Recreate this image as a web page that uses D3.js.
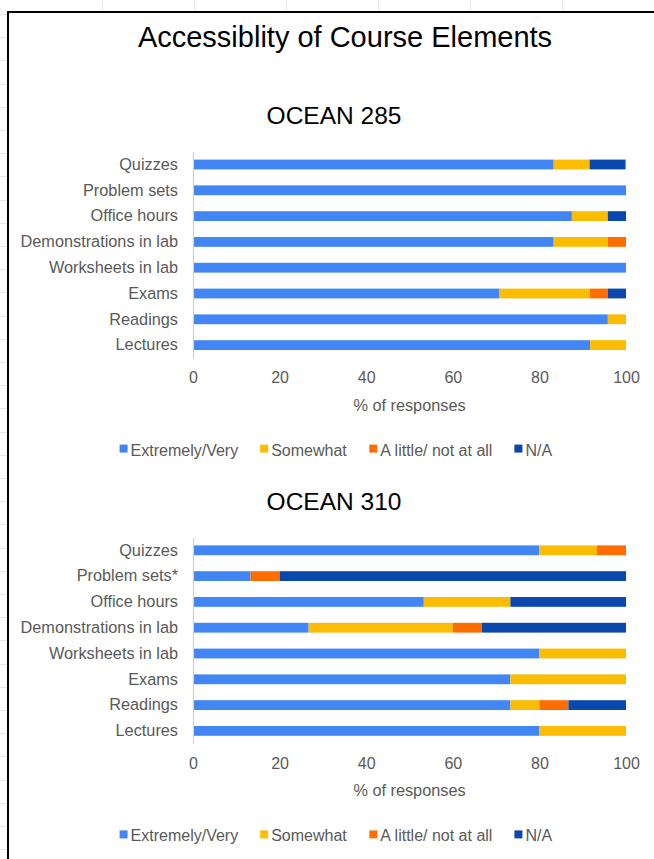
<!DOCTYPE html>
<html>
<head>
<meta charset="utf-8">
<script src="https://cdn.jsdelivr.net/npm/d3@7"></script>
<style>
  html, body { margin: 0; padding: 0; background: #fff; }
  svg { display: block; font-family: "Liberation Sans", Arial, Helvetica, sans-serif; }
</style>
</head>
<body>
<svg id="chart" width="654" height="859"></svg>
<script>
// Course elements (top to bottom)
const categories285 = ["Quizzes", "Problem sets", "Office hours", "Demonstrations in lab",
  "Worksheets in lab", "Exams", "Readings", "Lectures"];
const categories310 = ["Quizzes", "Problem sets*", "Office hours", "Demonstrations in lab",
  "Worksheets in lab", "Exams", "Readings", "Lectures"];

// Response levels
const seriesNames = ["Extremely/Very", "Somewhat", "A little/ not at all", "N/A"];

// OCEAN 285, % of responses
const extremely285 = [83.3, 100, 87.5, 83.3, 100, 70.8, 95.8, 91.7];
const somewhat285  = [8.3, 0, 8.3, 12.5, 0, 20.8, 4.2, 8.3];
const little285    = [0, 0, 0, 4.2, 0, 4.2, 0, 0];
const na285        = [8.3, 0, 4.2, 0, 0, 4.2, 0, 0];

// OCEAN 310, % of responses
const extremely310 = [80, 13.3, 53.3, 26.7, 80, 73.3, 73.3, 80];
const somewhat310  = [13.3, 0, 20, 33.3, 20, 26.7, 6.7, 20];
const little310    = [6.7, 6.7, 0, 6.7, 0, 0, 6.7, 0];
const na310        = [0, 80, 26.7, 33.3, 0, 0, 13.3, 0];

const xTicks = [0, 20, 40, 60, 80, 100];

const colors = ["#4285f4", "#fbbc04", "#ff6d01", "#0b48ad"];
const textGray = "#595959";

const svg = d3.select("#chart");

// faint worksheet cell lines outside the frame
const sheet = svg.append("g").attr("stroke", "#e6e6e6").attr("stroke-width", 1);
d3.range(102, 654, 92).forEach(x => {
  sheet.append("line").attr("x1", x + 0.5).attr("x2", x + 0.5).attr("y1", 0).attr("y2", 11);
});
d3.range(14, 859, 23.2).forEach(y => {
  sheet.append("line").attr("x1", 0).attr("x2", 7).attr("y1", Math.round(y) + 0.5).attr("y2", Math.round(y) + 0.5);
});

// frame around the figure
svg.append("path")
  .attr("d", "M8,859 V12 H654")
  .attr("fill", "none")
  .attr("stroke", "#000")
  .attr("stroke-width", 2);

svg.append("text")
  .attr("x", 345).attr("y", 47)
  .attr("text-anchor", "middle")
  .attr("font-size", 29)
  .attr("fill", "#000")
  .text("Accessiblity of Course Elements");

const x = d3.scaleLinear().domain([0, 100]).range([193, 626]);

function drawPanel(top, subtitle, categories, values) {
  const g = svg.append("g").attr("transform", `translate(0,${top})`);

  g.append("text")
    .attr("x", 334).attr("y", -27.5)
    .attr("text-anchor", "middle")
    .attr("font-size", 24.5)
    .attr("fill", "#000")
    .text(subtitle);

  const y = d3.scaleBand()
    .domain(categories)
    .range([0, 206.4])
    .paddingInner(0.62)
    .paddingOuter(0.31);

  const rows = categories.map((c, i) => {
    const r = { category: c };
    seriesNames.forEach((s, k) => { r[s] = values[k][i]; });
    return r;
  });
  const stacked = d3.stack().keys(seriesNames)(rows);

  g.selectAll("g.series")
    .data(stacked)
    .join("g")
    .attr("class", "series")
    .attr("fill", (d, k) => colors[k])
    .selectAll("rect")
    .data(d => d.filter(p => p[1] - p[0] > 0))
    .join("rect")
    .attr("x", p => x(p[0]))
    .attr("width", p => x(p[1]) - x(p[0]))
    .attr("y", p => y(p.data.category))
    .attr("height", y.bandwidth());

  // category axis
  const yAxis = g.append("g")
    .attr("transform", `translate(${x(0)},0)`)
    .call(d3.axisLeft(y).tickSize(0).tickPadding(15));
  yAxis.select(".domain").attr("stroke", "#d0d0d0").attr("stroke-width", 1.2);
  yAxis.selectAll("text")
    .attr("font-size", 16.3)
    .attr("font-family", "Liberation Sans, Arial, sans-serif")
    .attr("fill", textGray);

  // value axis (labels only)
  const xAxis = g.append("g")
    .attr("transform", `translate(0,${206.4})`)
    .call(d3.axisBottom(x).tickValues(xTicks).tickSize(0).tickPadding(14));
  xAxis.select(".domain").remove();
  xAxis.selectAll("text")
    .attr("font-size", 16)
    .attr("font-family", "Liberation Sans, Arial, sans-serif")
    .attr("fill", textGray);

  g.append("text")
    .attr("x", (x(0) + x(100)) / 2).attr("y", 259)
    .attr("text-anchor", "middle")
    .attr("font-size", 16.3)
    .attr("fill", textGray)
    .text("% of responses");

  // legend, centred as a row
  const leg = g.append("g").attr("transform", `translate(0,${304})`);
  const items = leg.selectAll("g")
    .data(seriesNames)
    .join("g");
  items.append("rect")
    .attr("width", 8).attr("height", 8)
    .attr("y", -11)
    .attr("fill", (d, k) => colors[k]);
  items.append("text")
    .attr("x", 11)
    .attr("font-size", 16)
    .attr("fill", textGray)
    .text(d => d);
  let cursor = 0;
  const gap = 22;
  const widths = [];
  items.each(function () { widths.push(this.getBBox().width); });
  const total = d3.sum(widths) + gap * (widths.length - 1);
  const start = 336 - total / 2;
  items.attr("transform", (d, k) => {
    const t = `translate(${start + cursor},0)`;
    cursor += widths[k] + gap;
    return t;
  });
}

drawPanel(151.6, "OCEAN 285", categories285, [extremely285, somewhat285, little285, na285]);
drawPanel(537.4, "OCEAN 310", categories310, [extremely310, somewhat310, little310, na310]);
</script>
</body>
</html>
